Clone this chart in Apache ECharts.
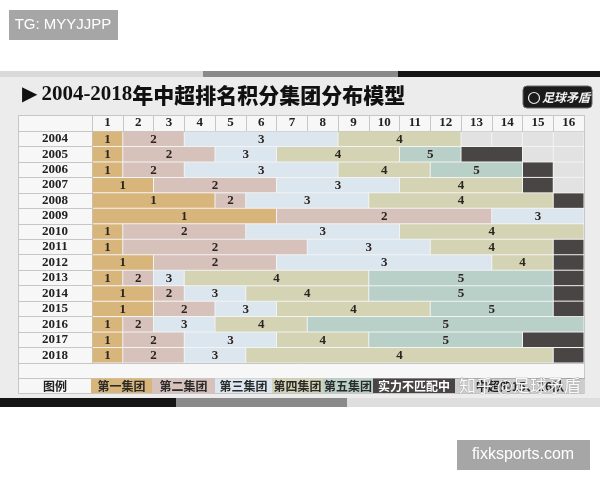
<!DOCTYPE html>
<html><head><meta charset="utf-8">
<script src="https://cdn.jsdelivr.net/npm/echarts@6/dist/echarts.min.js"></script>
<style>html,body{margin:0;padding:0;background:#fff}#c{width:600px;height:480px}</style>
</head><body><div id="c"></div>
<script>
// ---- data ----
const years = ['2004','2005','2006','2007','2008','2009','2010','2011','2012','2013','2014','2015','2016','2017','2018'];
const ranks = ['1','2','3','4','5','6','7','8','9','10','11','12','13','14','15','16'];
// number of clubs (consecutive ranks) in each group, per season
const group1Size = [1,1,1,2,4,6,1,1,2,1,2,2,1,1,1];
const group2Size = [2,3,2,4,1,7,4,6,4,1,1,2,1,2,2];
const group3Size = [5,2,5,4,4,3,5,4,7,1,2,2,2,3,2];
const group4Size = [4,4,3,4,6,0,6,4,2,6,4,5,3,3,10];
const group5Size = [0,2,3,0,0,0,0,0,0,6,6,4,9,5,0];
const weakSize   = [0,2,1,1,1,0,0,1,1,1,1,1,0,2,1];
const groupLabels = ['第一集团','第二集团','第三集团','第四集团','第五集团','实力不匹配中超的15、16队'];
const titleText = '2004-2018年中超排名积分集团分布模型';

// ---- styles ----
const fills = ['#d8b67b','#d6c1bb','#dce6ee','#d4d3b4','#b8d0c7','#4a4545','#e2e2e2'];
const serif = '"Liberation Serif","DejaVu Serif",serif';
const cjk = '"Noto Sans CJK SC","Noto Sans",sans-serif';

// build segments [fromRank, toRank, yearIndex, group]
const sizeLists = [group1Size, group2Size, group3Size, group4Size, group5Size, weakSize];
const segments = [];
years.forEach((y, yi) => {
  let pos = 1;
  sizeLists.forEach((lst, g) => {
    const n = lst[yi];
    if (n > 0) { segments.push([pos, pos + n - 1, yi, g]); pos += n; }
  });
  for (let r = pos; r <= ranks.length; r++) segments.push([r, r, yi, 6]);
});

function renderItem(params, api) {
  const s = api.value(0), e = api.value(1), yi = api.value(2), g = api.value(3);
  const bw = api.size([1, 0])[0], bh = api.size([0, 1])[1];
  const p0 = api.coord([s - 1, yi]), p1 = api.coord([e - 1, yi]);
  const x0 = p0[0] - bw / 2 + 0.5, x1 = p1[0] + bw / 2 - 0.5;
  const y0 = p0[1] - bh / 2 + 0.5;
  const children = [{type: 'rect', shape: {x: x0, y: y0, width: x1 - x0, height: bh - 1}, style: {fill: fills[g]}}];
  if (g < 5) children.push({type: 'text', style: {text: String(g + 1), x: (x0 + x1) / 2, y: p0[1] + 0.5,
    align: 'center', verticalAlign: 'middle', font: 'bold 13px ' + serif, fill: '#2b2421'}});
  return {type: 'group', children};
}

// legend cells (decoration row under the table)
const legendX = [91, 152, 215, 272, 323, 373, 585];
const legendEls = [];
for (let i = 0; i < 6; i++) {
  legendEls.push({type: 'rect', z: 5, shape: {x: legendX[i], y: 378.5, width: legendX[i + 1] - legendX[i], height: 14.5},
    style: {fill: fills[i]}});
}
legendEls.push({type: 'rect', z: 6, shape: {x: 455, y: 378.5, width: 130, height: 14.5}, style: {fill: '#cdcdcd'}});
for (let i = 0; i < 5; i++) {
  legendEls.push({type: 'text', z: 7, style: {text: groupLabels[i], x: (legendX[i] + legendX[i + 1]) / 2, y: 386,
    align: 'center', verticalAlign: 'middle', font: 'bold 12px ' + cjk, fill: '#2a2a2a'}});
}
legendEls.push({type: 'text', z: 7, style: {text: groupLabels[5].slice(0, 6), x: 414, y: 386, align: 'center',
  verticalAlign: 'middle', font: 'bold 12px ' + cjk, fill: '#ffffff'}});
legendEls.push({type: 'text', z: 7, style: {text: groupLabels[5].slice(5), x: 520, y: 386, align: 'center',
  verticalAlign: 'middle', font: 'bold 12px ' + cjk, fill: '#222'}});
legendEls.push({type: 'text', z: 8, style: {text: '知乎 @足球矛盾', x: 520, y: 386, align: 'center',
  verticalAlign: 'middle', font: '17px ' + cjk, fill: 'rgba(255,255,255,0.92)', stroke: 'rgba(120,120,120,0.6)', lineWidth: 0.6}});
legendEls.push({type: 'text', z: 7, style: {text: '图例', x: 55, y: 386, align: 'center', verticalAlign: 'middle',
  font: 'bold 12px ' + cjk, fill: '#222'}});

const chart = echarts.init(document.getElementById('c'), null, {renderer: 'canvas'});
chart.setOption({
  animation: false,
  backgroundColor: '#ffffff',
  grid: {left: 92, right: 16, top: 131, bottom: 117, show: true, backgroundColor: '#f3f3f3', borderWidth: 0},
  xAxis: {
    type: 'category', data: ranks, position: 'top',
    axisLine: {show: true, lineStyle: {color: '#c6c6c6'}},
    axisTick: {show: true, length: 16, interval: 0, lineStyle: {color: '#c6c6c6'}},
    axisLabel: {interval: 0, margin: 8, verticalAlign: 'middle', fontFamily: serif, fontWeight: 'bold', fontSize: 13, color: '#222'},
    splitLine: {show: false}
  },
  yAxis: {
    type: 'category', data: years, inverse: true,
    axisLine: {show: true, lineStyle: {color: '#c6c6c6'}},
    axisTick: {show: true, length: 73, interval: 0, lineStyle: {color: '#c6c6c6'}},
    axisLabel: {interval: 0, margin: 37, align: 'center', fontFamily: serif, fontWeight: 'bold', fontSize: 13, color: '#222'},
    splitLine: {show: false}
  },
  series: [{
    type: 'custom', renderItem: renderItem, data: segments,
    encode: {x: 0, y: 2}, clip: false
  }],
  graphic: [
    {type: 'rect', z: -20, shape: {x: 0, y: 77, width: 600, height: 321}, style: {fill: '#ececec'}},
    {type: 'rect', z: -19, shape: {x: 0, y: 71, width: 203, height: 6}, style: {fill: '#d9d9d9'}},
    {type: 'rect', z: -19, shape: {x: 203, y: 71, width: 195, height: 6}, style: {fill: '#8a8a8a'}},
    {type: 'rect', z: -19, shape: {x: 398, y: 71, width: 202, height: 6}, style: {fill: '#151515'}},
    {type: 'rect', z: -19, shape: {x: 0, y: 398, width: 176, height: 9}, style: {fill: '#151515'}},
    {type: 'rect', z: -19, shape: {x: 176, y: 398, width: 171, height: 9}, style: {fill: '#8a8a8a'}},
    {type: 'rect', z: -19, shape: {x: 347, y: 398, width: 253, height: 9}, style: {fill: '#dedede'}},
    {type: 'rect', z: -18, shape: {x: 18.5, y: 115.5, width: 566, height: 278}, style: {fill: '#f7f7f7', stroke: '#c6c6c6', lineWidth: 1}},
    {type: 'line', z: 4, shape: {x1: 18.5, y1: 363.5, x2: 584.5, y2: 363.5}, style: {stroke: '#c6c6c6'}},
    {type: 'line', z: 4, shape: {x1: 18.5, y1: 378.5, x2: 584.5, y2: 378.5}, style: {stroke: '#c6c6c6'}},
    {type: 'line', z: 4, shape: {x1: 18.5, y1: 115.5, x2: 92, y2: 115.5}, style: {stroke: '#c6c6c6'}},
    // title
    {type: 'text', z: 10, style: {x: 22, y: 95, verticalAlign: 'middle',
      text: '{t|▶}{n|' + titleText.slice(0, 9) + '}{c|' + titleText.slice(9) + '}',
      rich: {
        t: {font: '20px "DejaVu Sans"', fill: '#111', padding: [0, 4, 0, 0]},
        n: {font: 'bold 21px ' + serif, fill: '#111'},
        c: {font: '900 21px ' + cjk, fill: '#111'}
      }}},
    // logo
    {type: 'rect', z: 10, shape: {x: 523, y: 86, width: 69, height: 22, r: 4}, style: {fill: '#1b1b1b', stroke: '#6a6a6a', lineWidth: 1}},
    {type: 'circle', z: 11, shape: {cx: 534, cy: 98, r: 5.5}, style: {fill: 'none', stroke: '#eee', lineWidth: 1.2}},
    {type: 'text', z: 11, style: {text: '足球矛盾', x: 566, y: 97, align: 'center', verticalAlign: 'middle',
      font: 'italic bold 12px ' + cjk, fill: '#f2f2f2'}},
    // overlay boxes
    {type: 'rect', z: 50, shape: {x: 9, y: 10, width: 109, height: 30}, style: {fill: '#a6a6a6'}},
    {type: 'text', z: 51, style: {text: 'TG: MYYJJPP', x: 63, y: 25, align: 'center', verticalAlign: 'middle',
      font: '15px "Liberation Sans",Arial,sans-serif', fill: '#ffffff'}},
    {type: 'rect', z: 50, shape: {x: 457, y: 440, width: 133, height: 30}, style: {fill: '#a6a6a6'}},
    {type: 'text', z: 51, style: {text: 'fixksports.com', x: 523, y: 455, align: 'center', verticalAlign: 'middle',
      font: '16px "Liberation Sans",Arial,sans-serif', fill: '#ffffff'}}
  ].concat(legendEls)
});
</script></body></html>
